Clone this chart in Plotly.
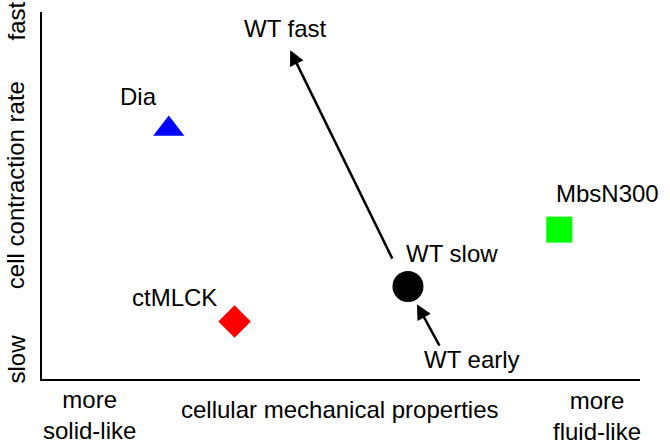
import plotly.graph_objects as go

# Conceptual positions on 0-10 scales (x: mechanical properties, y: contraction rate)
groups = ["Dia", "ctMLCK", "WT slow", "MbsN300"]
group_x = [2.12, 3.22, 6.12, 8.65]
group_y = [6.81, 1.57, 2.52, 4.07]
group_symbols = ["triangle-up", "diamond", "circle", "square"]
group_colors = ["#0000ff", "#ff0000", "#000000", "#00ff00"]
group_sizes = [27, 25, 31, 26]

label_texts = ["Dia", "ctMLCK", "WT slow", "MbsN300", "WT fast", "WT early"]
label_x = [1.62, 2.22, 6.86, 9.45, 4.08, 7.19]
label_y = [7.71, 2.22, 3.41, 5.05, 9.56, 0.54]

# arrows: (tail x, tail y) -> (head x, head y)
arrow_tail_x = [5.87, 6.66]
arrow_tail_y = [3.24, 0.87]
arrow_head_x = [4.15, 6.27]
arrow_head_y = [8.96, 2.04]

x_labels = ["more<br>solid-like", "cellular mechanical properties", "more<br>fluid-like"]
x_label_pos = [0.80, 4.98, 9.28]
x_label_y = [-0.98, -0.84, -1.01]

y_labels = ["fast", "cell contraction rate", "slow"]
y_label_pos = [9.75, 5.29, 0.54]
y_label_x = -0.43

FONT = "Liberation Sans, Arial, Helvetica, sans-serif"
FS = 24

fig = go.Figure()
for g, x, y, s, c, sz in zip(groups, group_x, group_y, group_symbols, group_colors, group_sizes):
    fig.add_trace(go.Scatter(x=[x], y=[y], mode="markers", name=g,
                             marker=dict(symbol=s, color=c, size=sz, line=dict(width=0)),
                             showlegend=False, cliponaxis=False, hoverinfo="skip"))

ann = []
for t, x, y in zip(label_texts, label_x, label_y):
    ann.append(dict(x=x, y=y, text=t, showarrow=False, xref="x", yref="y",
                    xanchor="center", yanchor="middle", font=dict(size=FS, color="black")))
for tx, ty, hx, hy in zip(arrow_tail_x, arrow_tail_y, arrow_head_x, arrow_head_y):
    ann.append(dict(x=hx, y=hy, ax=tx, ay=ty, xref="x", yref="y", axref="x", ayref="y",
                    text="", showarrow=True, arrowhead=2, arrowsize=1.2, arrowwidth=2.5,
                    arrowcolor="black", standoff=0, startstandoff=0))
# labels outside the plotting area: use paper coordinates (axis range is 0-10)
for t, x, y in zip(x_labels, x_label_pos, x_label_y):
    ann.append(dict(x=x / 10, y=y / 10, text=t, showarrow=False, xref="paper", yref="paper",
                    xanchor="center", yanchor="middle", font=dict(size=FS, color="black")))
for t, y in zip(y_labels, y_label_pos):
    ann.append(dict(x=y_label_x / 10, y=y / 10, text=t, showarrow=False, xref="paper", yref="paper",
                    textangle=-90, xanchor="center", yanchor="middle",
                    font=dict(size=FS, color="black")))

fig.update_layout(
    width=670, height=447,
    margin=dict(l=42, r=30, t=12, b=68),
    paper_bgcolor="white", plot_bgcolor="white",
    font=dict(family=FONT, size=FS, color="black"),
    annotations=ann,
    xaxis=dict(range=[0, 10], showgrid=False, zeroline=False, showticklabels=False,
               ticks="", showline=True, linecolor="black", linewidth=1.5, fixedrange=True),
    yaxis=dict(range=[0, 10], showgrid=False, zeroline=False, showticklabels=False,
               ticks="", showline=True, linecolor="black", linewidth=1.5, fixedrange=True),
)
# remove the page's default body margin so the figure fills the window exactly
fig.write_html("out.html", config={"displayModeBar": False},
               post_script="document.body.style.margin='0';document.body.style.overflow='hidden';")
